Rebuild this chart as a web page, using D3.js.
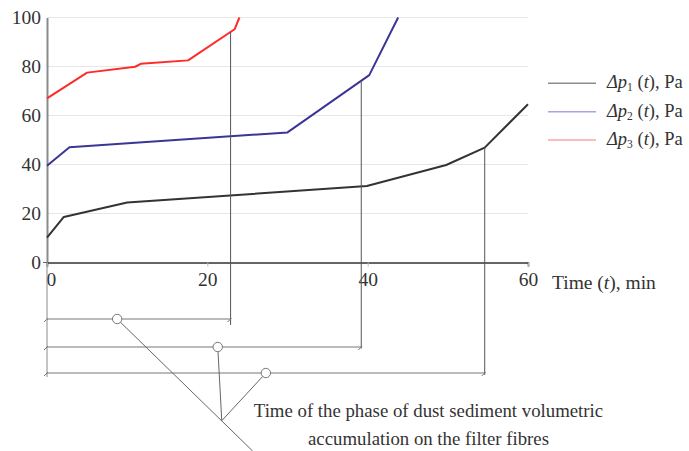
<!DOCTYPE html>
<html><head><meta charset="utf-8">
<script src="https://cdn.jsdelivr.net/npm/d3@7"></script>
<style>
html,body{margin:0;padding:0;background:#fff;}
svg{display:block;font-family:"Liberation Serif","Times New Roman",serif;}
</style></head>
<body><svg id="c" width="689" height="451"></svg>
<script>
// ---- data ----
const xTicks = [0, 20, 40, 60];
const yTicks = [0, 20, 40, 60, 80, 100];
const t1 = [0, 2.1, 10, 39.9, 49.8, 54.6, 60];
const p1 = [10.2, 18.6, 24.5, 31.2, 39.8, 46.9, 64.6];
const t2 = [0, 2.8, 30, 40.2, 43.8];
const p2 = [39.5, 47.0, 53.1, 76.5, 100];
const t3 = [0, 5, 11, 11.7, 17.6, 23.4, 24.0];
const p3 = [67.0, 77.5, 79.9, 81.1, 82.5, 95.2, 100];
const seriesNames = ["1", "2", "3"];
const phaseEnds = [22.9, 39.2, 54.6];      // end of accumulation phase (min)
const phaseMarks = [8.75, 21.3, 27.3];     // circle markers on each span (min)
const xLabel = "Time (t), min";
const noteLines = ["Time of the phase of dust sediment volumetric", "accumulation on the filter fibres"];

// ---- layout ----
const L = 47, R = 528, T = 17.5, B = 262.5;
const colors = ["#333333", "#3b3595", "#ff2a2a"];
const legendColors = ["#8c8c8c", "#a8a4e0", "#f7a6ae"];
const svg = d3.select("#c");
const x = d3.scaleLinear().domain([0, 60]).range([L, R]);
const y = d3.scaleLinear().domain([0, 100]).range([B, T]);

// grid
svg.append("g").selectAll("line").data(yTicks.filter(d => d > 0)).join("line")
  .attr("x1", L).attr("x2", R).attr("y1", d => y(d)).attr("y2", d => y(d))
  .attr("stroke", "#e6e6e6").attr("stroke-width", 1);

// y axis
const ya = svg.append("g").attr("transform", `translate(${L},0)`)
  .call(d3.axisLeft(y).tickValues(yTicks).tickSize(0).tickPadding(6));
ya.select(".domain").attr("stroke", "#8a8a8a").attr("stroke-width", 2);
ya.selectAll("text").attr("font-size", 19.5).attr("fill", "#333")
  .attr("font-family", "Liberation Serif");
// small tick at zero
svg.append("line").attr("x1", L - 4).attr("x2", L).attr("y1", y(0)).attr("y2", y(0))
  .attr("stroke", "#666");

// x axis
const xa = svg.append("g").attr("transform", `translate(0,${B})`)
  .call(d3.axisBottom(x).tickValues(xTicks).tickSize(4).tickPadding(6));
xa.select(".domain").attr("stroke", "#333").attr("stroke-width", 1.6);
xa.selectAll(".tick line").attr("stroke", "#bbb");
xa.selectAll("text").attr("font-size", 19.5).attr("fill", "#333")
  .attr("font-family", "Liberation Serif")
  .attr("text-anchor", d => d === 0 ? "start" : "middle")
  .attr("dx", d => d === 0 ? -1 : 0);

// x label
const xl = svg.append("text").attr("x", 552).attr("y", 289).attr("font-size", 19.5).attr("fill", "#333");
xl.append("tspan").text("Time (");
xl.append("tspan").attr("font-style", "italic").text("t");
xl.append("tspan").text("), min");

// series
const line = d3.line().x(d => x(d[0])).y(d => y(d[1]));
const series = [
  d3.zip(t1, p1), d3.zip(t2, p2), d3.zip(t3, p3)
];
series.forEach((s, i) => {
  svg.append("path").datum(s).attr("d", line).attr("fill", "none")
    .attr("stroke", colors[i]).attr("stroke-width", 2).attr("stroke-linejoin", "round");
});

// interpolation helper
function valueAt(ts, ps, t) {
  for (let k = 0; k < ts.length - 1; k++) {
    if (t >= ts[k] && t <= ts[k + 1]) return ps[k] + (ps[k + 1] - ps[k]) * (t - ts[k]) / (ts[k + 1] - ts[k]);
  }
  return ps[ps.length - 1];
}
const srcT = [t3, t2, t1], srcP = [p3, p2, p1];

// spans below the axis
const spanY = [319, 347, 373];
const dropExtra = [6, 1.5, 2];
// extension of the left axis line
svg.append("line").attr("x1", L).attr("x2", L).attr("y1", B).attr("y2", 377)
  .attr("stroke", "#8a8a8a").attr("stroke-width", 1);

phaseEnds.forEach((te, i) => {
  const xe = x(te);
  const ys = y(valueAt(srcT[i], srcP[i], te));
  svg.append("line").attr("x1", xe).attr("x2", xe).attr("y1", ys).attr("y2", spanY[i] + dropExtra[i])
    .attr("stroke", "#555").attr("stroke-width", 1);
  svg.append("line").attr("x1", L).attr("x2", xe).attr("y1", spanY[i]).attr("y2", spanY[i])
    .attr("stroke", "#777").attr("stroke-width", 1);
  [L, xe].forEach(xx => {
    svg.append("line").attr("x1", xx - 3).attr("x2", xx + 1).attr("y1", spanY[i] + 3).attr("y2", spanY[i] - 1)
      .attr("stroke", "#777").attr("stroke-width", 1);
  });
});

// leader lines
const jx = x(21.8), jy = 420.7;
const r = 4.7;
const c1 = [x(phaseMarks[0]), spanY[0]];
const c2 = [x(phaseMarks[1]), spanY[1]];
const c3 = [x(phaseMarks[2]), spanY[2]];
const endX = x(25.65), endY = 451;
function seg(a, b) {
  svg.append("line").attr("x1", a[0]).attr("y1", a[1]).attr("x2", b[0]).attr("y2", b[1])
    .attr("stroke", "#666").attr("stroke-width", 1);
}
seg(c1, [endX, endY]);
seg(c2, [jx, jy]);
seg(c3, [jx, jy]);
[c1, c2, c3].forEach(c => {
  svg.append("circle").attr("cx", c[0]).attr("cy", c[1]).attr("r", r)
    .attr("fill", "#fff").attr("stroke", "#777").attr("stroke-width", 1);
});

// note text
svg.append("g").selectAll("text").data(noteLines).join("text")
  .attr("x", 428.5).attr("y", (d, i) => 417 + i * 28)
  .attr("text-anchor", "middle").attr("font-size", 18.8).attr("fill", "#333")
  .text(d => d);

// legend
const legY = [83.3, 111.7, 140];
seriesNames.forEach((n, i) => {
  svg.append("line").attr("x1", 548).attr("x2", 596).attr("y1", legY[i]).attr("y2", legY[i])
    .attr("stroke", legendColors[i]).attr("stroke-width", 1.5);
  const tx = svg.append("text").attr("x", 607).attr("y", legY[i] + 5)
    .attr("font-size", 18.5).attr("fill", "#333");
  tx.append("tspan").attr("font-style", "italic").text("Δp");
  tx.append("tspan").attr("font-size", 11.5).attr("dy", 3).text(n);
  tx.append("tspan").attr("dy", -3).text(" (");
  tx.append("tspan").attr("font-style", "italic").text("t");
  tx.append("tspan").text("), Pa");
});
</script></body></html>
